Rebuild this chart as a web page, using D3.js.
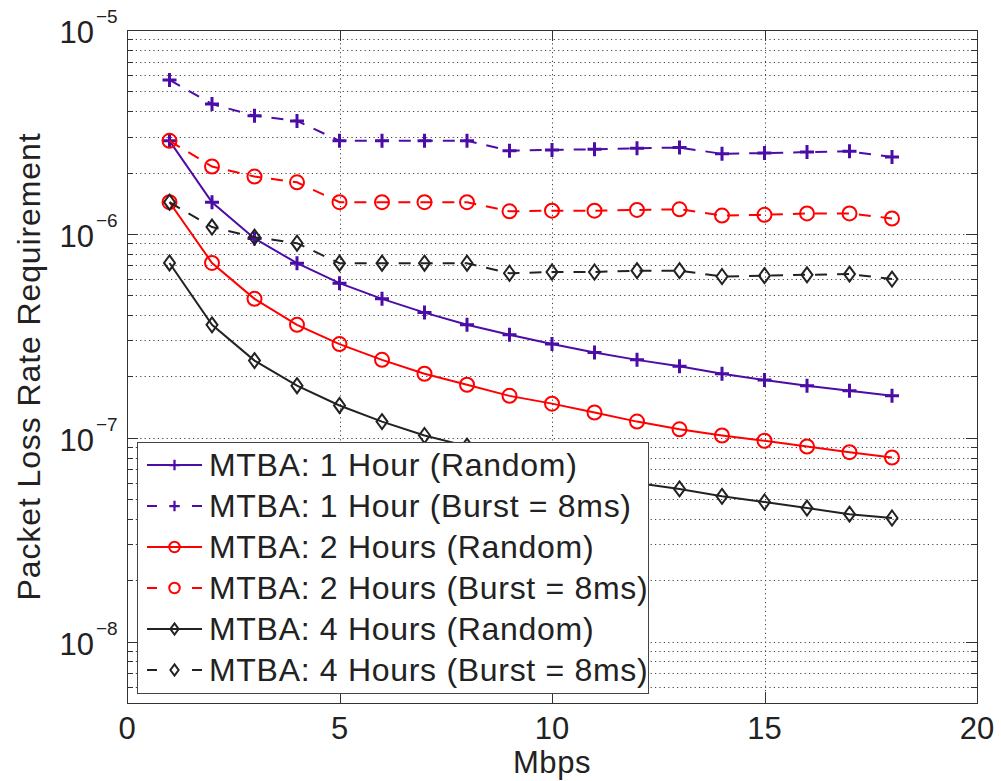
<!DOCTYPE html>
<html>
<head>
<meta charset="utf-8">
<script src="https://cdn.jsdelivr.net/npm/d3@7"></script>
<style>
  body { margin: 0; background: #fff; }
  text { font-family: "Liberation Sans", Arial, Helvetica, sans-serif; fill: #222; }
</style>
</head>
<body>
<script>
// Data
const mbps = d3.range(1, 19);

const oneHourRandom = [2.86e-6, 1.43e-6, 0.95e-6, 0.718e-6, 0.573e-6, 0.48e-6, 0.411e-6, 0.358e-6, 0.32e-6,
  0.288e-6, 0.262e-6, 0.241e-6, 0.224e-6, 0.206e-6, 0.192e-6, 0.180e-6, 0.170e-6, 0.1605e-6];
const oneHourBurst = [5.69e-6, 4.33e-6, 3.80e-6, 3.58e-6, 2.86e-6, 2.86e-6, 2.86e-6, 2.86e-6, 2.56e-6,
  2.58e-6, 2.60e-6, 2.63e-6, 2.65e-6, 2.47e-6, 2.49e-6, 2.52e-6, 2.54e-6, 2.38e-6];
const twoHoursRandom = [1.43e-6, 0.72e-6, 0.48e-6, 0.358e-6, 0.288e-6, 0.241e-6, 0.206e-6, 0.182e-6, 0.1605e-6,
  0.147e-6, 0.133e-6, 0.120e-6, 0.110e-6, 0.1026e-6, 0.0967e-6, 0.0906e-6, 0.085e-6, 0.080e-6];
const twoHoursBurst = [2.86e-6, 2.14e-6, 1.91e-6, 1.79e-6, 1.43e-6, 1.43e-6, 1.43e-6, 1.43e-6, 1.29e-6,
  1.30e-6, 1.30e-6, 1.31e-6, 1.32e-6, 1.23e-6, 1.24e-6, 1.26e-6, 1.26e-6, 1.19e-6];
const fourHoursRandom = [0.72e-6, 0.358e-6, 0.239e-6, 0.180e-6, 0.144e-6, 0.120e-6, 0.1026e-6, 0.091e-6, 0.080e-6,
  0.0735e-6, 0.0665e-6, 0.060e-6, 0.0561e-6, 0.0516e-6, 0.0484e-6, 0.0452e-6, 0.0422e-6, 0.0404e-6];
const fourHoursBurst = [1.43e-6, 1.08e-6, 0.964e-6, 0.90e-6, 0.718e-6, 0.718e-6, 0.718e-6, 0.718e-6, 0.641e-6,
  0.65e-6, 0.65e-6, 0.66e-6, 0.66e-6, 0.618e-6, 0.624e-6, 0.63e-6, 0.635e-6, 0.60e-6];

const seriesNames = [
  "MTBA: 1 Hour (Random)", "MTBA: 1 Hour (Burst = 8ms)",
  "MTBA: 2 Hours (Random)", "MTBA: 2 Hours (Burst = 8ms)",
  "MTBA: 4 Hours (Random)", "MTBA: 4 Hours (Burst = 8ms)"
];
const xTicks = [0, 5, 10, 15, 20];

const purple = "#4c0ca6", red = "#ff0000", black = "#222222";
const series = [
  { name: seriesNames[0], values: oneHourRandom, color: purple, dashed: false, marker: "plus" },
  { name: seriesNames[1], values: oneHourBurst, color: purple, dashed: true, marker: "plus" },
  { name: seriesNames[2], values: twoHoursRandom, color: red, dashed: false, marker: "circle" },
  { name: seriesNames[3], values: twoHoursBurst, color: red, dashed: true, marker: "circle" },
  { name: seriesNames[4], values: fourHoursRandom, color: black, dashed: false, marker: "diamond" },
  { name: seriesNames[5], values: fourHoursBurst, color: black, dashed: true, marker: "diamond" }
];

const W = 1001, H = 781;
const pLeft = 127, pRight = 977, pTop = 30, pBottom = 703;

const x = d3.scaleLinear().domain([0, 20]).range([pLeft, pRight]);
const y = d3.scaleLog().domain([5e-9, 1e-5]).range([pBottom, pTop]);

const svg = d3.select("body").append("svg")
  .attr("width", W).attr("height", H);

// grid
const yTicks = y.ticks();
const isMajor = v => Math.abs(Math.log10(v) - Math.round(Math.log10(v))) < 1e-9;

svg.append("g").selectAll("line")
  .data(yTicks.filter(v => y(v) > pTop + 0.5 && y(v) < pBottom - 0.5))
  .enter().append("line")
  .attr("x1", pLeft).attr("x2", pRight)
  .attr("y1", v => Math.round(y(v)) + 0.5).attr("y2", v => Math.round(y(v)) + 0.5)
  .attr("stroke", "#444").attr("stroke-width", 1)
  .attr("stroke-dasharray", "1.2,3.2");

svg.append("g").selectAll("line")
  .data(xTicks.slice(1, -1))
  .enter().append("line")
  .attr("x1", d => Math.round(x(d)) + 0.5).attr("x2", d => Math.round(x(d)) + 0.5)
  .attr("y1", pTop).attr("y2", pBottom)
  .attr("stroke", "#444").attr("stroke-width", 1)
  .attr("stroke-dasharray", "1.2,3.2");

// ticks on all four sides
const tickG = svg.append("g").attr("stroke", "#333").attr("stroke-width", 1);
yTicks.forEach(v => {
  const len = isMajor(v) ? 11 : 6;
  const yy = Math.round(y(v)) + 0.5;
  tickG.append("line").attr("x1", pLeft).attr("x2", pLeft + len).attr("y1", yy).attr("y2", yy);
  tickG.append("line").attr("x1", pRight).attr("x2", pRight - len).attr("y1", yy).attr("y2", yy);
});
xTicks.forEach(d => {
  const xx = Math.round(x(d)) + 0.5;
  tickG.append("line").attr("x1", xx).attr("x2", xx).attr("y1", pBottom).attr("y2", pBottom - 11);
  tickG.append("line").attr("x1", xx).attr("x2", xx).attr("y1", pTop).attr("y2", pTop + 11);
});

// axis box
svg.append("rect")
  .attr("x", pLeft + 0.5).attr("y", pTop + 0.5)
  .attr("width", pRight - pLeft).attr("height", pBottom - pTop)
  .attr("fill", "none").attr("stroke", "#333").attr("stroke-width", 1);

// y tick labels (10^k)
const yLabels = svg.append("g");
yTicks.filter(isMajor).forEach(v => {
  const yy = y(v);
  const k = Math.round(Math.log10(v));
  yLabels.append("text").attr("x", 94).attr("y", yy + 13)
    .attr("text-anchor", "end").attr("font-size", 31).text("10");
  yLabels.append("text").attr("x", 96).attr("y", yy - 7)
    .attr("font-size", 19).text("\u2212" + Math.abs(k));
});

// x tick labels
svg.append("g").selectAll("text")
  .data(xTicks)
  .enter().append("text")
  .attr("x", d => x(d)).attr("y", 739)
  .attr("text-anchor", "middle").attr("font-size", 31)
  .text(d => d);

// axis titles
svg.append("text")
  .attr("x", x(10)).attr("y", 773)
  .attr("text-anchor", "middle").attr("font-size", 31)
  .attr("letter-spacing", 0.6)
  .text("Mbps");

svg.append("text")
  .attr("transform", "translate(40," + ((pTop + pBottom) / 2) + ") rotate(-90)")
  .attr("text-anchor", "middle").attr("font-size", 32)
  .attr("letter-spacing", 0.9)
  .text("Packet Loss Rate Requirement");

// markers
function drawMarker(g, type, cx, cy, color, k = 1) {
  if (type === "plus") {
    const r = 7 * k;
    g.append("path")
      .attr("d", `M${cx - r},${cy}H${cx + r}M${cx},${cy - r}V${cy + r}`)
      .attr("stroke", color).attr("stroke-width", 3 * k).attr("fill", "none");
  } else if (type === "circle") {
    g.append("circle").attr("cx", cx).attr("cy", cy).attr("r", 7 * k)
      .attr("stroke", color).attr("stroke-width", 2).attr("fill", "none");
  } else {
    g.append("path")
      .attr("d", `M${cx},${cy - 7.5 * k}L${cx + 5.5 * k},${cy}L${cx},${cy + 7.5 * k}L${cx - 5.5 * k},${cy}Z`)
      .attr("stroke", color).attr("stroke-width", 2).attr("fill", "none");
  }
}

const line = d3.line()
  .x((v, i) => x(mbps[i]))
  .y(v => y(v));

const plot = svg.append("g");
series.forEach(s => {
  plot.append("path")
    .attr("d", line(s.values))
    .attr("fill", "none")
    .attr("stroke", s.color)
    .attr("stroke-width", 2)
    .attr("stroke-dasharray", s.dashed ? "12,10" : null);
  s.values.forEach((v, i) => drawMarker(plot, s.marker, x(mbps[i]), y(v), s.color));
});

// legend
const lg = svg.append("g");
lg.append("rect")
  .attr("x", 137.5).attr("y", 442.5).attr("width", 511).attr("height", 251)
  .attr("fill", "#fff").attr("stroke", "#444").attr("stroke-width", 1);

series.forEach((s, i) => {
  const cy = 465 + i * 41;
  lg.append("line")
    .attr("x1", 147).attr("x2", 202).attr("y1", cy).attr("y2", cy)
    .attr("stroke", s.color).attr("stroke-width", 2)
    .attr("stroke-dasharray", s.dashed ? "10,35" : null);
  drawMarker(lg, s.marker, 174.5, cy, s.color, 0.75);
  lg.append("text")
    .attr("x", 209).attr("y", cy + 11)
    .attr("font-size", 32)
    .attr("letter-spacing", 0.7)
    .text(s.name);
});
</script>
</body>
</html>
